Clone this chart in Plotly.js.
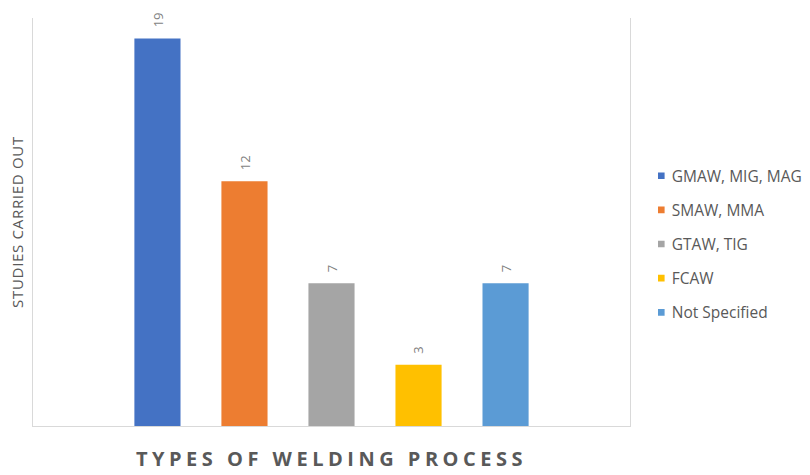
<!DOCTYPE html>
<html>
<head>
<meta charset="utf-8">
<script src="https://cdn.plot.ly/plotly-3.0.1.min.js"></script>
<style>
  html, body { margin: 0; padding: 0; background: #fff; }
  #chart { width: 810px; height: 475px; }
  .g-xtitle text { letter-spacing: 4.5px; }
  .g-ytitle text { letter-spacing: 0.7px; }
  /* small square legend keys */
  .legendpoints path { transform: translate(29.5px, 0px) scale(0.55); }
</style>
</head>
<body>
<div id="chart"></div>
<script>
// Welding processes and number of studies for each
const processes = ["GMAW, MIG, MAG", "SMAW, MMA", "GTAW, TIG", "FCAW", "Not Specified"];
const studies = [19, 12, 7, 3, 7];
const barColors = ["#4472C4", "#ED7D31", "#A5A5A5", "#FFC000", "#5B9BD5"];

const traces = processes.map((name, i) => ({
  type: "bar",
  name: name,
  legendgroup: name,
  x: [name],
  y: [studies[i]],
  width: 0.53,
  marker: { color: barColors[i] },
  hoverinfo: "x+y"
}));

// rotated value labels above each bar
const valueLabels = processes.map((name, i) => ({
  x: name,
  y: studies[i],
  xref: "x",
  yref: "y",
  text: String(studies[i]),
  textangle: -90,
  showarrow: false,
  yanchor: "bottom",
  xanchor: "center",
  yshift: 9,
  font: { family: "Open Sans, sans-serif", size: 13, color: "#7f7f7f" }
}));

const layout = {
  width: 810,
  height: 475,
  margin: { l: 33, r: 180, t: 18, b: 49 },
  paper_bgcolor: "#ffffff",
  plot_bgcolor: "#ffffff",
  barmode: "overlay",
  showlegend: true,
  font: { family: "Open Sans, sans-serif", color: "#595959" },
  xaxis: {
    type: "category",
    categoryorder: "array",
    categoryarray: processes,
    range: [-1.43, 5.43],
    showticklabels: false,
    ticks: "",
    showgrid: false,
    zeroline: false,
    showline: true,
    linecolor: "#d9d9d9",
    linewidth: 1,
    title: {
      text: "TYPES OF WELDING PROCESS",
      font: { family: "Open Sans, sans-serif", size: 20, color: "#595959", weight: "bold" },
      standoff: 25
    }
  },
  yaxis: {
    range: [0, 20],
    showticklabels: false,
    ticks: "",
    showgrid: false,
    zeroline: false,
    showline: true,
    mirror: true,
    linecolor: "#d9d9d9",
    linewidth: 1,
    title: {
      text: "STUDIES CARRIED OUT",
      font: { family: "Open Sans, sans-serif", size: 15, color: "#595959" },
      standoff: 4
    }
  },
  legend: {
    xref: "container",
    yref: "container",
    x: 0.78,
    xanchor: "left",
    y: 0.486,
    yanchor: "middle",
    tracegroupgap: 11,
    itemwidth: 30,
    font: { family: "Open Sans, sans-serif", size: 15.5, color: "#595959" },
    bgcolor: "rgba(0,0,0,0)"
  },
  annotations: valueLabels
};

Plotly.newPlot("chart", traces, layout, { displayModeBar: false, staticPlot: true });
</script>
</body>
</html>
